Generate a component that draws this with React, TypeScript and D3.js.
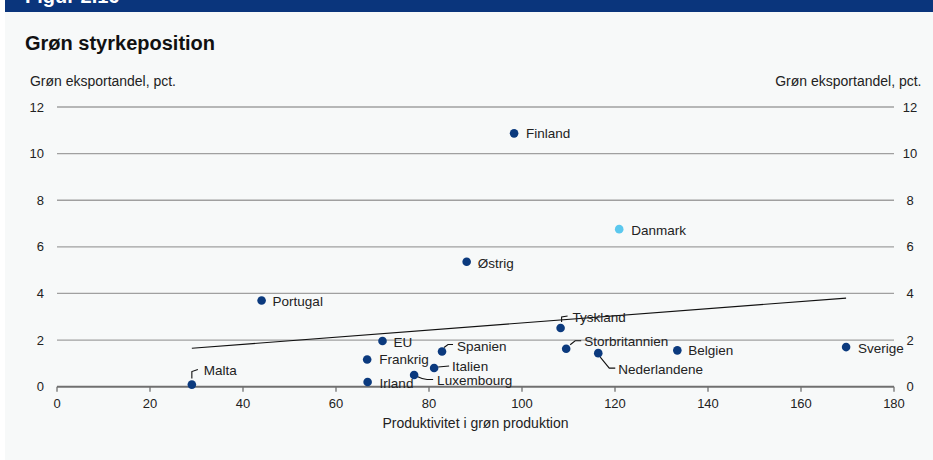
import React from "react";
import * as d3 from "d3";

const countries = ["Malta", "Portugal", "EU", "Frankrig", "Irland", "Spanien", "Italien", "Luxembourg", "Finland", "Danmark", "Østrig", "Tyskland", "Storbritannien", "Nederlandene", "Belgien", "Sverige"];
const productivity = [29.0, 44.0, 70.0, 66.7, 66.8, 82.8, 81.1, 76.8, 98.3, 120.9, 88.1, 108.3, 109.5, 116.4, 133.4, 169.7];
const exportShare = [0.09, 3.7, 1.96, 1.17, 0.2, 1.51, 0.8, 0.5, 10.87, 6.76, 5.36, 2.52, 1.63, 1.44, 1.56, 1.7];
const highlight = ["Danmark"];

const trendX = [29.0, 169.7];
const trendY = [1.65, 3.8];

const xTicks = [0, 20, 40, 60, 80, 100, 120, 140, 160, 180];
const yTicks = [0, 2, 4, 6, 8, 10, 12];

const title = "Grøn styrkeposition";
const header = "Figur 2.16";
const yTitle = "Grøn eksportandel, pct.";
const xTitle = "Produktivitet i grøn produktion";

// label placement (pixel offsets relative to dot) and leader lines
const labelLayout: Record<string, { dx: number; dy: number; leader?: string }> = {
  Malta: { dx: 12, dy: -14, leader: "M0,-6 L0,-13 L6,-15" },
  Portugal: { dx: 11, dy: 1 },
  EU: { dx: 11, dy: 1 },
  Frankrig: { dx: 12, dy: 0 },
  Irland: { dx: 12, dy: 1 },
  Spanien: { dx: 15, dy: -5, leader: "M2,-4 L6,-7 L11,-7" },
  Italien: { dx: 18, dy: -2, leader: "M4,-1 L15,-2" },
  Luxembourg: { dx: 23, dy: 5, leader: "M3,1.5 Q8,4 13,4.5 L19,4.5" },
  Finland: { dx: 12, dy: 0 },
  Danmark: { dx: 12, dy: 1 },
  "Østrig": { dx: 11, dy: 1 },
  Tyskland: { dx: 12, dy: -11, leader: "M1,-6 L1,-11 L7,-12" },
  Storbritannien: { dx: 18, dy: -7, leader: "M4,-4 L9,-8 L15,-8" },
  Nederlandene: { dx: 20, dy: 16, leader: "M2,4 L11,15 L17,15" },
  Belgien: { dx: 11, dy: 0 },
  Sverige: { dx: 12, dy: 1 },
};

const W = 933;
const H = 460;
const FONT = '"Liberation Sans", Arial, Helvetica, sans-serif';
const DARK = "#0b3a7e";
const LIGHT = "#5bc8ee";

export default function App() {
  const x = d3.scaleLinear().domain([0, 180]).range([57, 894]);
  const y = d3.scaleLinear().domain([0, 12]).range([386.7, 107]);
  const line = d3
    .line<number>()
    .x((d) => x(trendX[d]))
    .y((d) => y(trendY[d]));

  return (
    <svg
      width={W}
      height={H}
      style={{ position: "absolute", left: 0, top: 0 }}
      fontFamily={FONT}
    >
      <rect x={0} y={0} width={W} height={H} fill="#ffffff" />
      <rect x={5} y={0} width={W - 5} height={H} fill="#f7f9f9" />
      <rect x={5} y={0} width={W - 5} height={12} fill="#0a357c" />
      <text x={25} y={2.5} fill="#ffffff" fontSize={20} fontWeight="bold">
        {header}
      </text>
      <text x={25} y={50} fill="#111" fontSize={20} fontWeight="bold">
        {title}
      </text>
      <text x={30} y={85.5} fill="#222" fontSize={14} textLength={146} lengthAdjust="spacingAndGlyphs">
        {yTitle}
      </text>
      <text x={921.5} y={85.5} fill="#222" fontSize={14} textAnchor="end">
        {yTitle}
      </text>

      {/* gridlines */}
      {yTicks
        .filter((t) => t !== 0)
        .map((t) => (
          <line key={"g" + t} x1={x(0)} x2={x(180)} y1={y(t)} y2={y(t)} stroke="#a0a0a0" strokeWidth={1.3} />
        ))}
      {/* y tick labels */}
      {yTicks.map((t) => (
        <g key={"yl" + t}>
          <text x={44} y={y(t)} dy="0.35em" fontSize={13} textAnchor="end" fill="#222">
            {t}
          </text>
          <text x={910} y={y(t)} dy="0.35em" fontSize={13} textAnchor="middle" fill="#222">
            {t}
          </text>
        </g>
      ))}
      {/* x axis */}
      <line x1={x(0)} x2={x(180)} y1={y(0)} y2={y(0)} stroke="#707070" strokeWidth={2} />
      {xTicks.map((t) => (
        <g key={"xt" + t}>
          <line x1={x(t)} x2={x(t)} y1={y(0)} y2={y(0) + 5} stroke="#707070" strokeWidth={1.3} />
          <text x={x(t)} y={407.5} fontSize={13} textAnchor="middle" fill="#222">
            {t}
          </text>
        </g>
      ))}
      <text x={(x(0) + x(180)) / 2} y={428} fontSize={14} textAnchor="middle" fill="#222">
        {xTitle}
      </text>

      {/* trend line */}
      <path d={line([0, 1]) || ""} fill="none" stroke="#111" strokeWidth={1.1} />

      {/* points */}
      {countries.map((c, i) => {
        const cx = x(productivity[i]);
        const cy = y(exportShare[i]);
        const lay = labelLayout[c] || { dx: 11, dy: 0 };
        return (
          <g key={c} transform={`translate(${cx},${cy})`}>
            {lay.leader && <path d={lay.leader} fill="none" stroke="#111" strokeWidth={1.1} />}
            <circle r={4.3} fill={highlight.includes(c) ? LIGHT : DARK} />
            <text x={lay.dx} y={lay.dy} dy="0.35em" fontSize={13.5} fill="#222">
              {c}
            </text>
          </g>
        );
      })}
    </svg>
  );
}
